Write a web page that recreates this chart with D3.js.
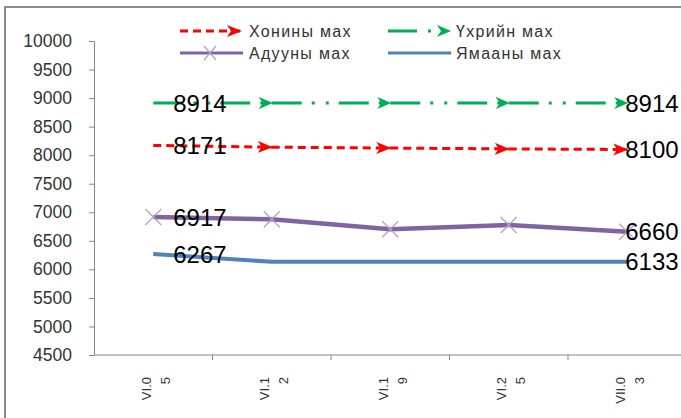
<!DOCTYPE html>
<html>
<head>
<meta charset="utf-8">
<script src="https://cdn.jsdelivr.net/npm/d3@7"></script>
<style>
  body { margin: 0; background: #fff; }
  text { font-family: "Liberation Sans", Arial, sans-serif; }
</style>
</head>
<body>
<div id="chart"></div>
<script>
let width = 681,
  height = 418;

// data
let cats = ["VI.05", "VI.12", "VI.19", "VI.25", "VII.03"];
let catLines = [["VI.0", "5"], ["VI.1", "2"], ["VI.1", "9"], ["VI.2", "5"], ["VII.0", "3"]];
let khoni = [8171, 8140, 8125, 8110, 8100];
let ukhriin = [8914, 8914, 8914, 8914, 8914];
let aduu = [6917, 6877, 6702, 6777, 6660];
let yamaa = [6267, 6133, 6133, 6133, 6133];
let yTicks = [4500, 5000, 5500, 6000, 6500, 7000, 7500, 8000, 8500, 9000, 9500, 10000];

let series = [
  { name: "Хонины мах", values: khoni, color: "#ff0000", width: 3, dash: "8,5", arrow: "arrRed" },
  { name: "Үхрийн мах", values: ukhriin, color: "#00b050", width: 3, dash: "30,10,3,11,3,10", arrow: "arrGreen" },
  { name: "Адууны мах", values: aduu, color: "#8064a2", width: 4.5, dash: null, arrow: null, mark: "#b3a2c7" },
  { name: "Ямааны мах", values: yamaa, color: "#4f81bd", width: 4, dash: null, arrow: null }
];

let svg = d3.select("#chart")
  .append("svg")
  .attr("width", width)
  .attr("height", height);

// arrow heads
let defs = svg.append("defs");
defs.append("marker")
  .attr("id", "arrRed")
  .attr("markerUnits", "userSpaceOnUse")
  .attr("markerWidth", 16).attr("markerHeight", 14)
  .attr("refX", 14).attr("refY", 6)
  .attr("orient", "auto")
  .append("path")
  .attr("d", "M0,0 L15,6 L0,12 L4,6 Z")
  .attr("fill", "#ff0000");
defs.append("marker")
  .attr("id", "arrGreen")
  .attr("markerUnits", "userSpaceOnUse")
  .attr("markerWidth", 16).attr("markerHeight", 14)
  .attr("refX", 13).attr("refY", 6)
  .attr("orient", "auto")
  .append("path")
  .attr("d", "M0,0 L14,6 L0,12 L4,6 Z")
  .attr("fill", "#00b050");

// frame
svg.append("rect")
  .attr("x", 5).attr("y", 7)
  .attr("width", 700).attr("height", 430)
  .attr("fill", "none")
  .attr("stroke", "#8a8a8a")
  .attr("stroke-width", 2);

let x = d3.scaleBand()
  .domain(cats)
  .range([94, 94 + 5 * 118.5]);

let y = d3.scaleLinear()
  .domain([4500, 10000])
  .range([355, 41]);

let px = c => x(c) + x.bandwidth() / 2;

// y axis
let yAxis = svg.append("g")
  .attr("transform", "translate(94,0)")
  .call(d3.axisLeft(y).tickValues(yTicks).tickSize(5).tickPadding(17).tickFormat(d3.format("d")));
yAxis.select(".domain").attr("stroke", "#868686");
yAxis.selectAll(".tick line").attr("stroke", "#868686");
yAxis.selectAll(".tick text")
  .attr("fill", "#333")
  .style("font-size", "17.5px")
  .style("font-family", "Liberation Sans, Arial, sans-serif");

// x axis
svg.append("line")
  .attr("x1", 94).attr("x2", width)
  .attr("y1", 355).attr("y2", 355)
  .attr("stroke", "#868686");

svg.selectAll(".xtick")
  .data(cats.slice(1))
  .join("line")
  .attr("x1", d => x(d)).attr("x2", d => x(d))
  .attr("y1", 355).attr("y2", 360)
  .attr("stroke", "#868686");

let xl = svg.selectAll(".xlab")
  .data(cats)
  .join("text")
  .attr("transform", d => `translate(${px(d) - 7},377) rotate(-90)`)
  .attr("text-anchor", "end")
  .attr("fill", "#333")
  .style("font-size", "13px");
xl.each(function (d, i) {
  let t = d3.select(this);
  t.append("tspan").attr("x", 0).attr("dy", "0.35em").text(catLines[i][0]);
  t.append("tspan").attr("x", 0).attr("dy", "1.45em").text(catLines[i][1]);
});

// lines
let line = d3.line()
  .x(d => px(d.c))
  .y(d => y(d.v));

series.slice().reverse().forEach(s => {
  let pts = s.values.map((v, i) => ({ c: cats[i], v: v }));
  let g = svg.append("g");
  if (s.arrow) {
    for (let i = 0; i < pts.length - 1; i++) {
      g.append("path")
        .attr("d", line([pts[i], pts[i + 1]]))
        .attr("fill", "none")
        .attr("stroke", s.color)
        .attr("stroke-width", s.width)
        .attr("stroke-dasharray", s.dash)
        .attr("marker-end", `url(#${s.arrow})`);
    }
  } else {
    g.append("path")
      .attr("d", line(pts))
      .attr("fill", "none")
      .attr("stroke", s.color)
      .attr("stroke-width", s.width)
      .attr("stroke-linejoin", "round");
  }
  if (s.mark) {
    g.selectAll("path.mk")
      .data(pts)
      .join("path")
      .attr("class", "mk")
      .attr("d", d => {
        let cx = px(d.c), cy = y(d.v), r = 8;
        return `M${cx - r},${cy - r}L${cx + r},${cy + r}M${cx - r},${cy + r}L${cx + r},${cy - r}`;
      })
      .attr("stroke", s.mark)
      .attr("stroke-width", 1.3);
  }
});

// data labels on first and last points
series.forEach(s => {
  let n = s.values.length;
  [[0, 20], [n - 1, -2]].forEach(([i, off]) => {
    svg.append("text")
      .attr("x", px(cats[i]) + off)
      .attr("y", y(s.values[i]))
      .attr("dy", "0.36em")
      .attr("fill", "#000")
      .style("font-size", "24px")
      .text(s.values[i]);
  });
});

// legend
let legPos = [[180, 31], [388, 31], [180, 53], [388, 53]];
series.forEach((s, i) => {
  let [lx, ly] = legPos[i];
  let g = svg.append("g").attr("transform", `translate(${lx},${ly})`);
  if (i === 0) {
    g.append("line").attr("x1", 0).attr("x2", 61).attr("y1", 0).attr("y2", 0)
      .attr("stroke", s.color).attr("stroke-width", 3).attr("stroke-dasharray", s.dash)
      .attr("marker-end", `url(#${s.arrow})`);
  } else if (i === 1) {
    g.append("line").attr("x1", 0).attr("x2", 62).attr("y1", 0).attr("y2", 0)
      .attr("stroke", s.color).attr("stroke-width", 3).attr("stroke-dasharray", "29,11,3,30")
      .attr("marker-end", `url(#${s.arrow})`);
  } else {
    g.append("line").attr("x1", 0).attr("x2", 63).attr("y1", 0).attr("y2", 0)
      .attr("stroke", s.color).attr("stroke-width", 3);
    if (s.mark) {
      g.append("path")
        .attr("d", "M24,-7L36,7M24,7L36,-7")
        .attr("stroke", s.mark).attr("stroke-width", 1.2);
    }
  }
  g.append("text")
    .attr("x", i % 2 === 0 ? 69 : 68)
    .attr("y", 0)
    .attr("dy", "0.36em")
    .attr("fill", "#333")
    .style("font-size", "16px")
    .style("letter-spacing", "1.3px")
    .text(s.name);
});
</script>
</body>
</html>
